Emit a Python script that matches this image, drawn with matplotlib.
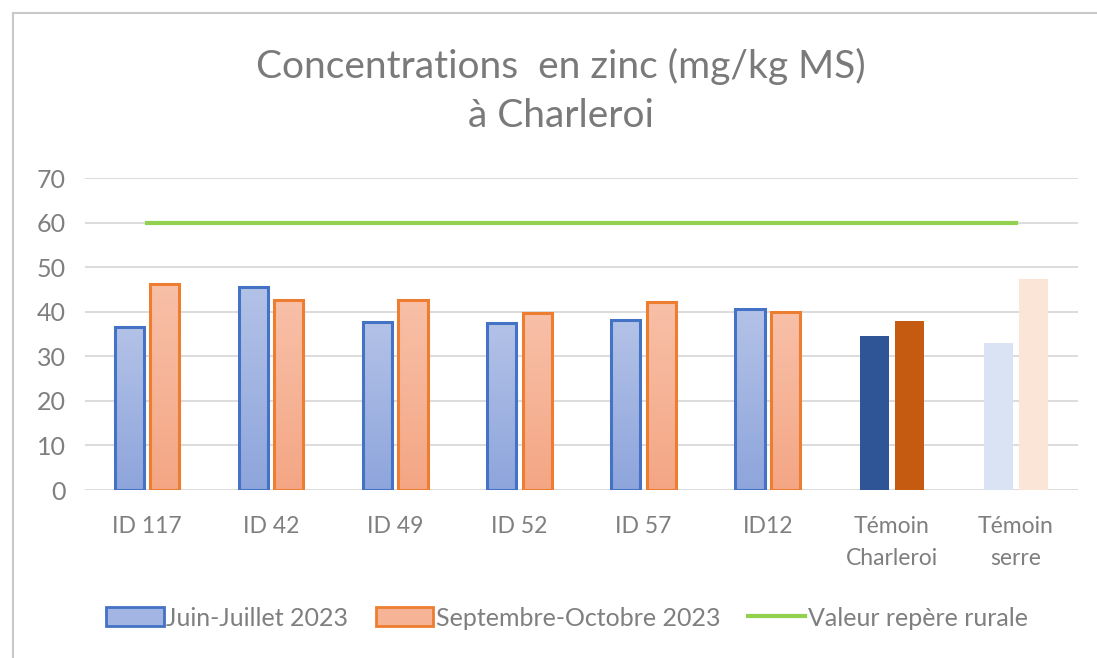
import numpy as np
import matplotlib
matplotlib.use("Agg")
import matplotlib.pyplot as plt
from matplotlib.patches import Rectangle, Patch
from matplotlib.lines import Line2D
from matplotlib.colors import LinearSegmentedColormap

categories = ["ID 117", "ID 42", "ID 49", "ID 52", "ID 57", "ID12", "Témoin\nCharleroi", "Témoin\nserre"]
juin_juillet = [36.5, 45.6, 37.8, 37.5, 38.1, 40.6, 34.6, 33.0]
sept_oct = [46.2, 42.6, 42.6, 39.7, 42.2, 39.9, 37.9, 47.3]
valeur_repere = [60] * len(categories)
series_names = ["Juin-Juillet 2023", "Septembre-Octobre 2023", "Valeur repère rurale"]

plt.rcParams['font.family'] = ['Lato', 'DejaVu Sans']
TXT = "#7f7f7f"

fig = plt.figure(figsize=(10.97, 6.58), dpi=100)
# outer chart border
fig.patches.append(Rectangle((13/1097, -0.1), 1.2, (658-13)/658 + 0.1, transform=fig.transFigure,
                             fill=False, edgecolor="#c8c8c8", linewidth=1.5))

ax = fig.add_axes([85/1097, 1-490/658, (1078-85)/1097, (490-178)/658])
ax.set_xlim(-0.5, len(categories) - 0.5)
ax.set_ylim(0, 70)
ax.set_yticks(range(0, 71, 10))
ax.yaxis.grid(True, color="#d9d9d9", linewidth=1.3)
ax.set_axisbelow(True)
for s in ax.spines.values():
    s.set_visible(False)
ax.tick_params(axis="both", length=0, colors=TXT)
ax.tick_params(axis="y", pad=14, labelsize=18)
ax.tick_params(axis="x", pad=19, labelsize=16.5)
x = np.arange(len(categories))
ax.set_xticks(x)
ax.set_xticklabels(categories, linespacing=1.65)

w = 0.235
gap = 0.05
blue_cmap = LinearSegmentedColormap.from_list("b", ["#8ea5dc", "#b3c2e7"])
orange_cmap = LinearSegmentedColormap.from_list("o", ["#f4a684", "#f8c0a8"])
grad = np.linspace(0, 1, 256).reshape(-1, 1)

def gradient_bar(xc, h, cmap, edge):
    x0 = xc - w / 2
    rect = Rectangle((x0, 0), w, h, facecolor="none", edgecolor=edge, linewidth=2.2, zorder=3)
    ax.add_patch(rect)
    im = ax.imshow(grad, cmap=cmap, origin="lower", extent=(x0, x0 + w, 0, h),
                   aspect="auto", zorder=2, interpolation="bilinear")
    im.set_clip_path(Rectangle((x0, 0), w, h, transform=ax.transData))

special = {6: ("#2f5597", "#c55a11"), 7: ("#dae3f3", "#fbe5d6")}
for i in range(len(categories)):
    xb = x[i] - (w + gap) / 2
    xo = x[i] + (w + gap) / 2
    if i in special:
        cb, co = special[i]
        ax.bar(xb, juin_juillet[i], width=w, color=cb, zorder=3)
        ax.bar(xo, sept_oct[i], width=w, color=co, zorder=3)
    else:
        gradient_bar(xb, juin_juillet[i], blue_cmap, "#4472c4")
        gradient_bar(xo, sept_oct[i], orange_cmap, "#ed7d31")

ax.plot(x, valeur_repere, color="#92d050", linewidth=3, zorder=4)
ax.set_xlim(-0.5, len(categories) - 0.5)
ax.set_ylim(0, 70)

fig.text(0.511, 1 - 66/658, "Concentrations  en zinc (mg/kg MS)", ha="center", va="center",
         fontsize=28, color="#7a7a7a")
fig.text(0.511, 1 - 116/658, "à Charleroi", ha="center", va="center", fontsize=28, color="#7a7a7a")

handles = [Patch(facecolor="#a3b5e2", edgecolor="#4472c4", linewidth=2),
           Patch(facecolor="#f6b396", edgecolor="#ed7d31", linewidth=2),
           Line2D([0], [0], color="#92d050", linewidth=3)]
leg = fig.legend(handles, series_names, loc="center", bbox_to_anchor=(0.517, 1 - 618/658), ncol=3,
                 frameon=False, fontsize=18, labelcolor=TXT, handlelength=2.3, handleheight=0.8,
                 handletextpad=0.1, columnspacing=1.1)

fig.savefig("out.png", dpi=100, facecolor="white")
